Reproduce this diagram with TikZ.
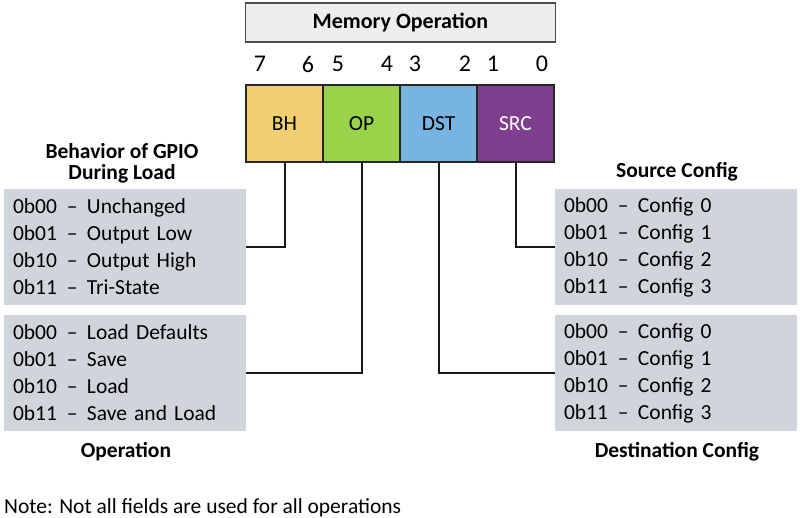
\documentclass[tikz,border=0pt]{standalone}
\usepackage{fontspec}
\setmainfont{Carlito}
\usetikzlibrary{positioning}

\definecolor{bhyellow}{HTML}{F0D070}
\definecolor{opgreen}{HTML}{99D34A}
\definecolor{dstblue}{HTML}{78B4E0}
\definecolor{srcpurple}{HTML}{7E3F8E}
\definecolor{listgray}{HTML}{D0D5DC}
\definecolor{titlegray}{HTML}{EEEEEE}

\newcommand{\cfgrow}[2]{\makebox[54pt][l]{#1}\makebox[20pt][l]{--}#2}

\begin{document}
\begin{tikzpicture}[
  x=1pt, y=-1pt,
  every node/.style={font=\fontsize{21.5}{27}\selectfont, inner sep=0pt},
  field/.style={draw=black!85, line width=1.5pt, minimum width=77pt, minimum height=77pt},
  bitnum/.style={font=\fontsize{24}{28}\selectfont},
  listbox/.style={fill=listgray, text width=224pt, inner xsep=9pt, minimum height=116pt, align=left},
  heading/.style={font=\fontsize{21.5}{21}\selectfont\bfseries, align=center},
  link/.style={draw=black!90, line width=2pt}
]
\useasboundingbox (0,0) rectangle (800,518);

% title
\node[draw=black!70, line width=1.2pt, fill=titlegray, minimum width=310pt, minimum height=39pt,
      font=\fontsize{22}{24}\selectfont\bfseries] (title) at (400.5,22.5) {Memory Operation};

% bit numbers
\node[bitnum] (b7) at (260,64) {7};
\node[bitnum] (b6) at (308,64) {6};
\node[bitnum] (b5) at (338,64) {5};
\node[bitnum] (b4) at (387,64) {4};
\node[bitnum] (b3) at (415,64) {3};
\node[bitnum] (b2) at (465,64) {2};
\node[bitnum] (b1) at (493,64) {1};
\node[bitnum] (b0) at (542,64) {0};

% fields
\node[field, fill=bhyellow] (bh) at (284.5,123.5) {BH};
\node[field, fill=opgreen] (op) at (361.5,123.5) {OP};
\node[field, fill=dstblue] (dst) at (438.5,123.5) {DST};
\node[field, fill=srcpurple, text=white] (src) at (515.5,123.5) {SRC};

% left side
\node[heading] (gpiohead) at (122,163) {Behavior of GPIO\\During Load};
\node[listbox] (gpio) at (125,247) {\cfgrow{0b00}{Unchanged}\\\cfgrow{0b01}{Output Low}\\
  \cfgrow{0b10}{Output High}\\\cfgrow{0b11}{Tri-State}};
\node[listbox] (oper) at (125,373) {\cfgrow{0b00}{Load Defaults}\\\cfgrow{0b01}{Save}\\
  \cfgrow{0b10}{Load}\\\cfgrow{0b11}{Save and Load}};
\node[heading] (operhead) at (126,452) {Operation};

% right side
\node[heading] (srchead) at (677,172) {Source Config};
\node[listbox] (srccfg) at (676,247) {\cfgrow{0b00}{Config 0}\\\cfgrow{0b01}{Config 1}\\
  \cfgrow{0b10}{Config 2}\\\cfgrow{0b11}{Config 3}};
\node[listbox] (dstcfg) at (676,373) {\cfgrow{0b00}{Config 0}\\\cfgrow{0b01}{Config 1}\\
  \cfgrow{0b10}{Config 2}\\\cfgrow{0b11}{Config 3}};
\node[heading] (dsthead) at (677,452) {Destination Config};

% connectors
\draw[link] (bh.south) |- (gpio.east);
\draw[link] (op.south) |- (oper.east);
\draw[link] (dst.south) |- (dstcfg.west);
\draw[link] (src.south) |- (srccfg.west);

\node[anchor=west] (note) at (4,508) {Note: Not all fields are used for all operations};
\end{tikzpicture}
\end{document}
